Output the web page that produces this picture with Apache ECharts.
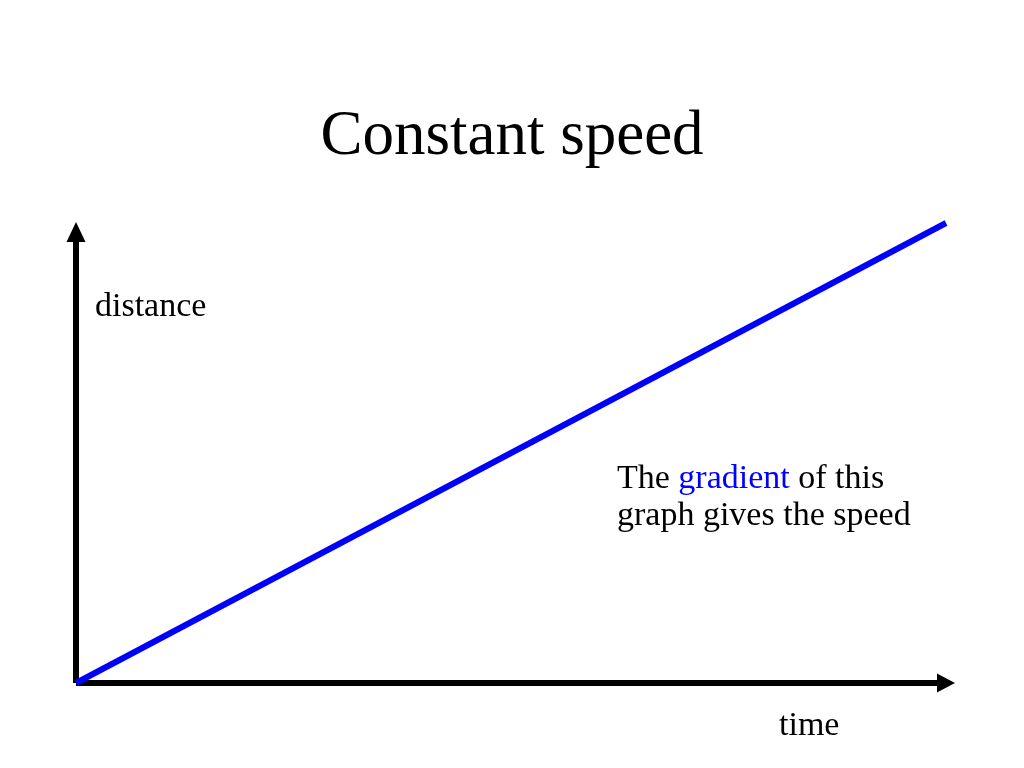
<!DOCTYPE html>
<html>
<head>
<meta charset="utf-8">
<script src="https://cdn.jsdelivr.net/npm/echarts@6/dist/echarts.min.js"></script>
<style>html,body{margin:0;padding:0;background:#fff}#c{width:1024px;height:768px}</style>
</head>
<body>
<div id="c"></div>
<script>
// Data
const titleText = 'Constant speed';
const xAxisName = 'time';
const yAxisName = 'distance';
const timeValues = [0, 10];
const distanceValues = [0, 10.2];
const noteLine1 = ['The ', 'gradient', ' of this'];
const noteLine2 = 'graph gives the speed';

const serif = '"Liberation Serif", "Times New Roman", serif';
const chart = echarts.init(document.getElementById('c'));
chart.setOption({
  backgroundColor: '#ffffff',
  animation: false,
  title: {
    text: titleText, left: 'center', top: 106, padding: 0,
    textStyle: {fontFamily: serif, fontSize: 63, fontWeight: 'normal', color: '#000'}
  },
  grid: {left: 76, right: 78, top: 232, bottom: 85, containLabel: false},
  xAxis: {
    type: 'value', min: 0, max: 10,
    axisLine: {show: true, symbol: ['none', 'triangle'], symbolSize: [19, 18], lineStyle: {color: '#000', width: 6, cap: 'butt'}},
    axisTick: {show: false}, axisLabel: {show: false}, splitLine: {show: false}
  },
  yAxis: {
    type: 'value', min: 0, max: 10,
    axisLine: {show: true, symbol: ['none', 'triangle'], symbolSize: [19, 20], lineStyle: {color: '#000', width: 6, cap: 'butt'}},
    axisTick: {show: false}, axisLabel: {show: false}, splitLine: {show: false}
  },
  series: [{
    type: 'line',
    data: timeValues.map((t, i) => [t, distanceValues[i]]),
    clip: false,
    showSymbol: false,
    lineStyle: {color: '#0000ff', width: 6, cap: 'butt'},
    z: 3
  }],
  graphic: [
    {type: 'text', left: 95, top: 290, style: {text: yAxisName, font: '34px ' + serif, fill: '#000'}},
    {type: 'text', left: 779, top: 709, style: {text: xAxisName, font: '34px ' + serif, fill: '#000'}},
    {type: 'text', left: 617, top: 462, style: {
      text: '{k|' + noteLine1[0] + '}{b|' + noteLine1[1] + '}{k|' + noteLine1[2] + '}\n{k|' + noteLine2 + '}',
      rich: {
        k: {fontFamily: serif, fontSize: 34, fill: '#000', lineHeight: 37},
        b: {fontFamily: serif, fontSize: 34, fill: '#0000ff', lineHeight: 37}
      }
    }}
  ]
});
</script>
</body>
</html>
